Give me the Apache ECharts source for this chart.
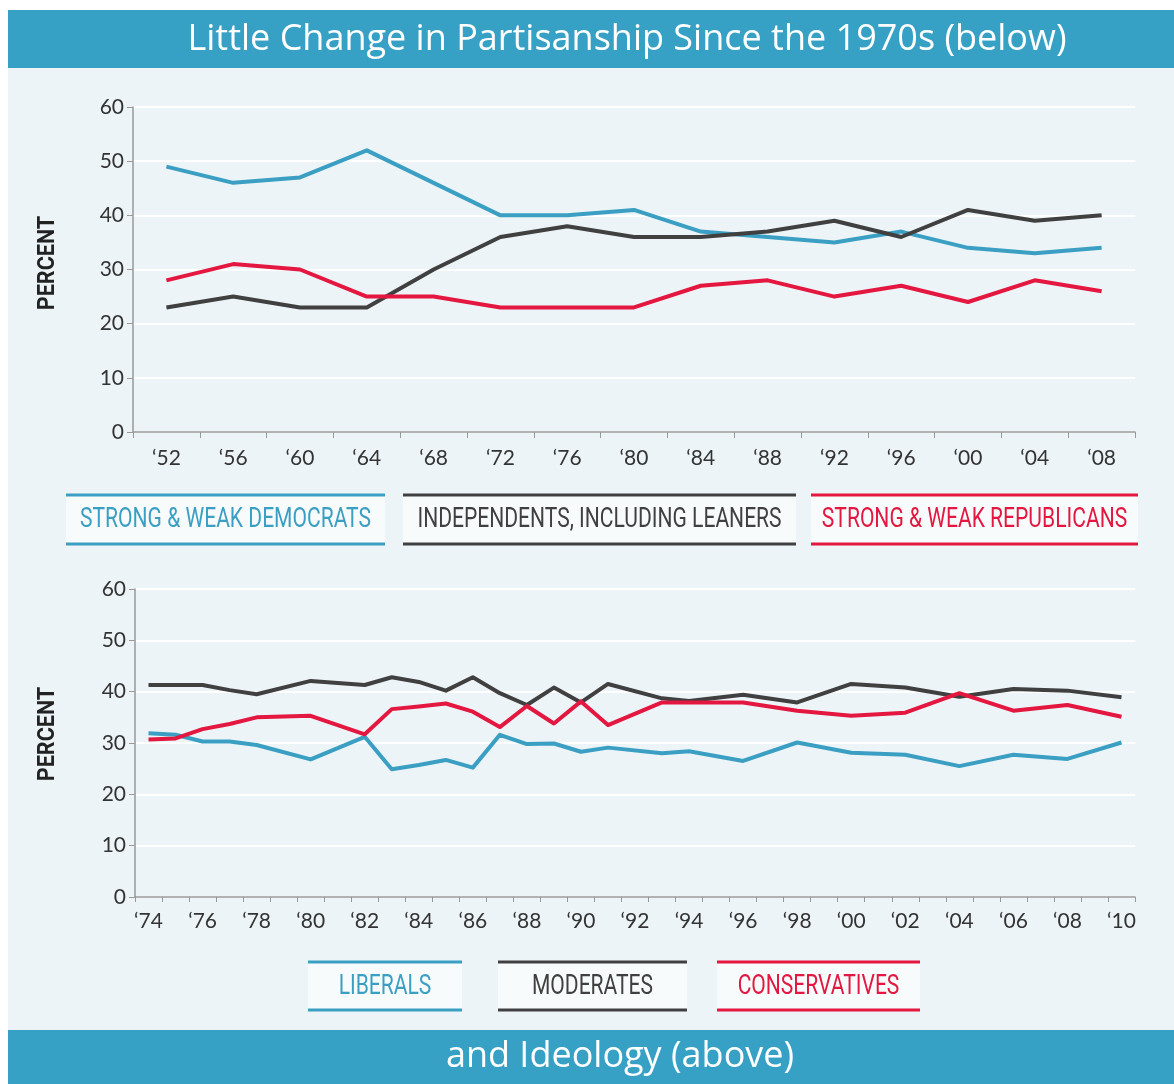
<!DOCTYPE html>
<html>
<head>
<meta charset="utf-8">
<script src="https://cdn.jsdelivr.net/npm/echarts@6/dist/echarts.min.js"></script>
<style>
  html, body { margin: 0; padding: 0; background: #fff; }
  #main { width: 1174px; height: 1084px; }
</style>
</head>
<body>
<div id="main"></div>
<script>
// top chart: partisanship, presidential years
var partyYears = ['1952','1956','1960','1964','1968','1972','1976','1980','1984','1988','1992','1996','2000','2004','2008'];
var democrats    = [49, 46, 47, 52, 46, 40, 40, 41, 37, 36, 35, 37, 34, 33, 34];
var independents = [23, 25, 23, 23, 30, 36, 38, 36, 36, 37, 39, 36, 41, 39, 40];
var republicans  = [28, 31, 30, 25, 25, 23, 23, 23, 27, 28, 25, 27, 24, 28, 26];

// bottom chart: ideology, survey years on a yearly axis
var axisYears = ['1974','1975','1976','1977','1978','1979','1980','1981','1982','1983','1984','1985','1986',
  '1987','1988','1989','1990','1991','1992','1993','1994','1995','1996','1997','1998','1999','2000',
  '2001','2002','2003','2004','2005','2006','2007','2008','2009','2010'];
var surveyYears = ['1974','1975','1976','1977','1978','1980','1982','1983','1984','1985','1986','1987','1988',
  '1989','1990','1991','1993','1994','1996','1998','2000','2002','2004','2006','2008','2010'];
var liberals      = [31.9, 31.6, 30.3, 30.3, 29.6, 26.8, 31.2, 24.9, 25.7, 26.7, 25.2, 31.6, 29.8,
  29.9, 28.3, 29.1, 28.0, 28.4, 26.5, 30.1, 28.1, 27.7, 25.5, 27.7, 26.9, 30.1];
var moderates     = [41.3, 41.3, 41.3, 40.3, 39.5, 42.1, 41.3, 42.8, 41.9, 40.2, 42.8, 39.7, 37.4,
  40.8, 37.9, 41.5, 38.7, 38.2, 39.4, 37.9, 41.5, 40.8, 39.0, 40.5, 40.2, 38.9];
var conservatives = [30.7, 30.9, 32.7, 33.7, 35.0, 35.3, 31.7, 36.6, 37.1, 37.7, 36.1, 33.1, 37.2,
  33.8, 38.1, 33.5, 37.9, 37.9, 37.9, 36.3, 35.3, 35.9, 39.7, 36.3, 37.4, 35.1];

var topNames = ['STRONG & WEAK DEMOCRATS', 'INDEPENDENTS, INCLUDING LEANERS', 'STRONG & WEAK REPUBLICANS'];
var bottomNames = ['LIBERALS', 'MODERATES', 'CONSERVATIVES'];
var colors = ['#3a9fc2', '#404040', '#e3173f'];
var barColor = '#36a1c5';
var panelColor = '#edf4f8';
var narrowFont = '27px Roboto, "Liberation Sans", sans-serif';

var chart = echarts.init(document.getElementById('main'));

function pairs(xs, ys) {
  return xs.map(function (x, i) { return [x, ys[i]]; });
}
function shortYear(v) {
  return '\u2018' + String(v).slice(2);
}

function yAxis(gridIndex) {
  return {
    type: 'value', gridIndex: gridIndex, min: 0, max: 60, interval: 10,
    axisLine: { show: true, lineStyle: { color: '#999', width: 1.5 } },
    axisTick: { show: true, length: 6, lineStyle: { color: '#999' } },
    axisLabel: { color: '#333', fontSize: 21, fontFamily: 'Lato', margin: 9 },
    splitLine: { lineStyle: { color: '#ffffff', width: 2 } }
  };
}

function line(name, x, y, data, color) {
  return {
    name: name, type: 'line', xAxisIndex: x, yAxisIndex: y,
    data: data, symbol: 'none', animation: false,
    lineStyle: { color: color, width: 4, join: 'round' },
    itemStyle: { color: color }
  };
}

// legend boxes: a pale ribbon between two coloured rules, squeezed text
function legendBox(x1, x2, yTop, yBot, text, color) {
  return [
    { type: 'rect', shape: { x: x1, y: yTop, width: x2 - x1, height: yBot - yTop }, style: { fill: '#f8fbfc' } },
    { type: 'line', shape: { x1: x1, y1: yTop, x2: x2, y2: yTop }, style: { stroke: color, lineWidth: 3 } },
    { type: 'line', shape: { x1: x1, y1: yBot, x2: x2, y2: yBot }, style: { stroke: color, lineWidth: 3 } },
    { type: 'text', x: (x1 + x2) / 2, y: (yTop + yBot) / 2 + 1, scaleX: 0.78,
      style: { text: text, fill: color, font: narrowFont, textAlign: 'center', textVerticalAlign: 'middle' } }
  ];
}

function percentLabel(y) {
  return { type: 'text', x: 48, y: y, rotation: Math.PI / 2, scaleX: 0.9,
    style: { text: 'PERCENT', fill: '#222', font: 'bold 24px Roboto, sans-serif',
      textAlign: 'center', textVerticalAlign: 'middle' } };
}

var graphics = [
  { type: 'rect', z: -10, shape: { x: 8, y: 68, width: 1166, height: 962 }, style: { fill: panelColor } },
  { type: 'rect', shape: { x: 8, y: 10, width: 1166, height: 58 }, style: { fill: barColor } },
  { type: 'text', x: 627, y: 40, style: { text: 'Little Change in Partisanship Since the 1970s (below)', fill: '#fff',
      font: '36px "Open Sans", sans-serif', textAlign: 'center', textVerticalAlign: 'middle' } },
  { type: 'rect', shape: { x: 8, y: 1030, width: 1166, height: 54 }, style: { fill: barColor } },
  { type: 'text', x: 620, y: 1057, style: { text: 'and Ideology (above)', fill: '#fff',
      font: '36px "Open Sans", sans-serif', textAlign: 'center', textVerticalAlign: 'middle' } },
  percentLabel(263),
  percentLabel(734)
];
var topBoxes = [[66, 385], [403, 796], [811, 1138]];
var bottomBoxes = [[308, 462], [498, 687], [717, 920]];
topBoxes.forEach(function (b, i) {
  graphics = graphics.concat(legendBox(b[0], b[1], 495, 544, topNames[i], colors[i]));
});
bottomBoxes.forEach(function (b, i) {
  graphics = graphics.concat(legendBox(b[0], b[1], 962, 1010, bottomNames[i], colors[i]));
});

var option = {
  backgroundColor: '#fff',
  animation: false,
  grid: [
    { left: 133, right: 39, top: 107, height: 325 },
    { left: 135, right: 39, top: 589, height: 308 }
  ],
  xAxis: [
    {
      type: 'category', gridIndex: 0, data: partyYears, boundaryGap: true,
      axisLine: { lineStyle: { color: '#999', width: 1.5 } },
      axisTick: { show: true, length: 6, lineStyle: { color: '#999' } },
      axisLabel: { color: '#333', fontSize: 21, fontFamily: 'Lato', margin: 16, formatter: shortYear }
    },
    {
      type: 'category', gridIndex: 1, data: axisYears, boundaryGap: true,
      axisLine: { lineStyle: { color: '#999', width: 1.5 } },
      axisTick: { show: true, interval: 0, length: 5, lineStyle: { color: '#999' } },
      axisLabel: { color: '#333', fontSize: 21, fontFamily: 'Lato', margin: 14, interval: 1, formatter: shortYear }
    }
  ],
  yAxis: [yAxis(0), yAxis(1)],
  graphic: graphics,
  series: [
    line(topNames[0], 0, 0, democrats, colors[0]),
    line(topNames[1], 0, 0, independents, colors[1]),
    line(topNames[2], 0, 0, republicans, colors[2]),
    line(bottomNames[0], 1, 1, pairs(surveyYears, liberals), colors[0]),
    line(bottomNames[1], 1, 1, pairs(surveyYears, moderates), colors[1]),
    line(bottomNames[2], 1, 1, pairs(surveyYears, conservatives), colors[2])
  ]
};
chart.setOption(option);
</script>
</body>
</html>
